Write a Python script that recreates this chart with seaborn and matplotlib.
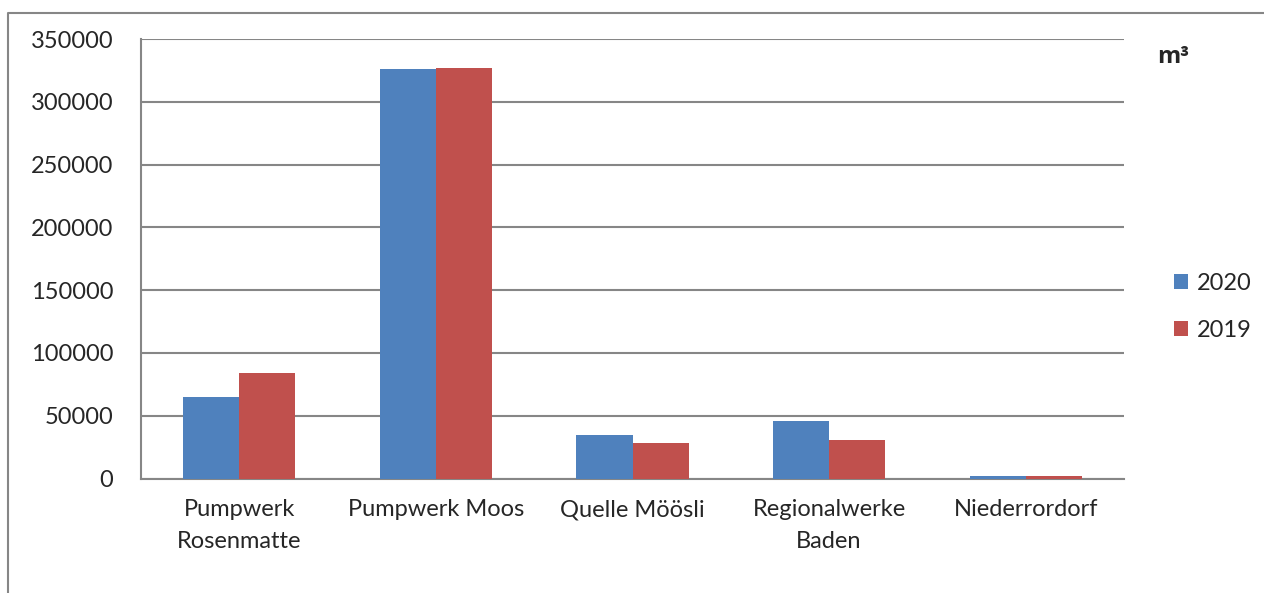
import matplotlib
matplotlib.use('Agg')
import matplotlib.pyplot as plt
import numpy as np
import pandas as pd
import seaborn as sns
from matplotlib.lines import Line2D
from matplotlib.patches import Patch

# Daten
standorte = ['Pumpwerk\nRosenmatte', 'Pumpwerk Moos', 'Quelle Möösli',
             'Regionalwerke\nBaden', 'Niederrordorf']
werte_2020 = [64600, 325800, 34600, 46000, 2100]
werte_2019 = [83800, 326900, 28000, 30300, 2200]
jahre = ['2020', '2019']
farben = ['#4F81BD', '#C0504D']
y_ticks = [0, 50000, 100000, 150000, 200000, 250000, 300000, 350000]

df = pd.DataFrame({
    'standort': standorte * 2,
    'menge': werte_2020 + werte_2019,
    'jahr': [jahre[0]] * len(standorte) + [jahre[1]] * len(standorte),
})

sns.set_style('white')
plt.rcParams['font.family'] = ['Lato', 'DejaVu Sans']
grau = '#868686'
fs = 17

fig = plt.figure(figsize=(12.64, 5.93), dpi=100)
ax = fig.add_axes([141 / 1264, 1 - 478.5 / 593, (1124 - 141) / 1264, (478.5 - 39) / 593])

sns.barplot(data=df, x='standort', y='menge', hue='jahr', order=standorte,
            hue_order=jahre, palette=farben, width=0.57, saturation=1,
            linewidth=0, ax=ax, legend=False, zorder=3)

ax.set_ylim(0, 350000)
ax.set_xlim(-0.5, len(standorte) - 0.5)
ax.set_yticks(y_ticks)
ax.set_yticklabels([str(v) for v in y_ticks], fontsize=fs)
ax.set_xticks(range(len(standorte)))
ax.set_xticklabels(standorte, fontsize=fs, linespacing=1.65, va='top')
ax.set_xticks(np.arange(-0.5, len(standorte), 1), minor=True)
ax.tick_params(axis='x', which='major', length=0, pad=15)
ax.tick_params(axis='x', which='minor', length=7, width=1.5, color=grau, direction='out')
ax.tick_params(axis='y', length=8, width=1.5, color=grau, direction='out', pad=12)
ax.set_xlabel('')
ax.set_ylabel('')

ax.grid(axis='y', color=grau, linewidth=1.5, zorder=0)
ax.set_axisbelow(True)
for s in ['top', 'right']:
    ax.spines[s].set_visible(False)
for s in ['left', 'bottom']:
    ax.spines[s].set_color(grau)
    ax.spines[s].set_linewidth(1.5)

# Legende
handles = [Patch(facecolor=f, edgecolor='none') for f in farben]
fig.legend(handles, jahre, loc='upper left', bbox_to_anchor=(1174 / 1264, 1 - 273 / 593),
           frameon=False, fontsize=fs, handlelength=0.6, handleheight=0.6,
           handletextpad=0.35, labelspacing=1.1, borderpad=0, borderaxespad=0)

fig.text(1157 / 1264, 1 - 57 / 593, 'm³', fontsize=17, fontweight='bold', va='center',
         family=['Open Sans', 'DejaVu Sans'])

# Rahmen
fig.add_artist(Line2D([8 / 1264, 8 / 1264, 1.0], [0.0, 1 - 13 / 593, 1 - 13 / 593],
                      transform=fig.transFigure, color=grau, linewidth=1.5))

fig.savefig('out.png', dpi=100)
